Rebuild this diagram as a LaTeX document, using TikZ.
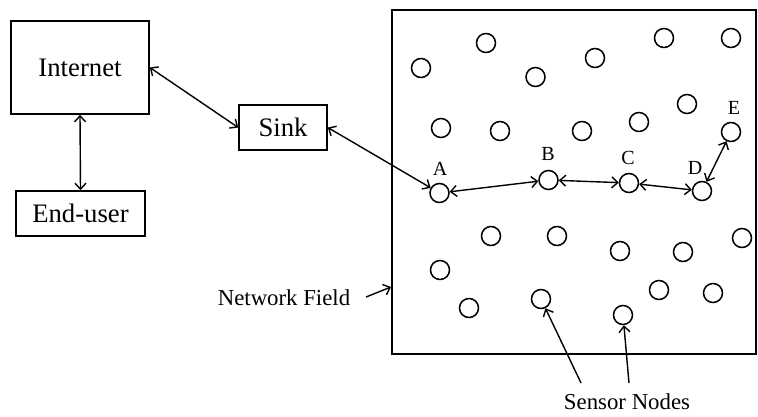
\documentclass[tikz,border=0pt]{standalone}
\usepackage{fontspec}
\setmainfont{Liberation Serif}
\usetikzlibrary{arrows.meta}
\begin{document}
\begin{tikzpicture}[x=1pt,y=-1pt,
  box/.style={draw,line width=1.6pt,inner sep=0pt,font=\fontsize{26.7}{30}\selectfont},
  sensor/.style={draw,circle,line width=1.5pt,minimum size=19pt,inner sep=0pt},
  lbl/.style={font=\fontsize{20}{22}\selectfont,inner sep=0pt},
  note/.style={font=\fontsize{22.8}{25}\selectfont,inner sep=0pt},
  link/.style={line width=1.4pt,{Straight Barb[length=6pt,width=11pt]}-{Straight Barb[length=6pt,width=11pt]}},
  point/.style={line width=1.4pt,-{Straight Barb[length=6pt,width=11pt]}}]
\useasboundingbox (0,0) rectangle (758,416);
% left boxes
\node[box,minimum width=138pt,minimum height=93pt] (internet) at (80,67.5) {Internet};
\node[box,minimum width=129pt,minimum height=45pt] (enduser) at (80.5,213.5) {End-user};
\node[box,minimum width=88pt,minimum height=45pt] (sink) at (283,127.5) {Sink};
% field
\node[draw,line width=1.6pt,minimum width=364pt,minimum height=344pt,inner sep=0pt] (field) at (574,182) {};
% sensors
\foreach \n/\x/\y in {s1/421/68, s2/486/43, s3/535.5/77, s4/595/58, s5/664/38, s6/731/38,
  s7/441/128, s8/500/131, s9/582/131, s10/639/122, s11/687/104,
  s12/491/236, s13/557/236, s14/620/251, s15/683/252, s16/742/238,
  s17/440/270, s18/469/308, s19/541/299, s20/623/315, s21/659/290, s22/713/293}
  \node[sensor] (\n) at (\x,\y) {};
\node[sensor] (A) at (439.5,193) {};
\node[sensor] (B) at (548.5,180) {};
\node[sensor] (C) at (629,183) {};
\node[sensor] (D) at (702,191) {};
\node[sensor] (E) at (731,132) {};
\node[lbl] (lA) at (440,169) {A};
\node[lbl] (lB) at (548,154) {B};
\node[lbl] (lC) at (628,158) {C};
\node[lbl] (lD) at (695,168) {D};
\node[lbl] (lE) at (734,108) {E};
% connectors
\draw[link] (internet.south) -- (enduser.north);
\draw[link] (internet.east) -- (sink.west);
\draw[link] (sink.east) -- (A);
\draw[link] (A) -- (B);
\draw[link] (B) -- (C);
\draw[link] (C) -- (D);
\draw[link] (D) -- (E);
% notes
\node[note] (nf) at (284,298) {Network Field};
\coordinate (nfstart) at (366,297);
\coordinate (nfend) at (391,287);
\draw[point] (nfstart) -- (nfend);
\node[note] (sn) at (627,402) {Sensor Nodes};
\coordinate (sna) at (581,383);
\coordinate (snb) at (629,383);
\draw[point] (sna) -- (s19);
\draw[point] (snb) -- (s20);
\end{tikzpicture}
\end{document}
